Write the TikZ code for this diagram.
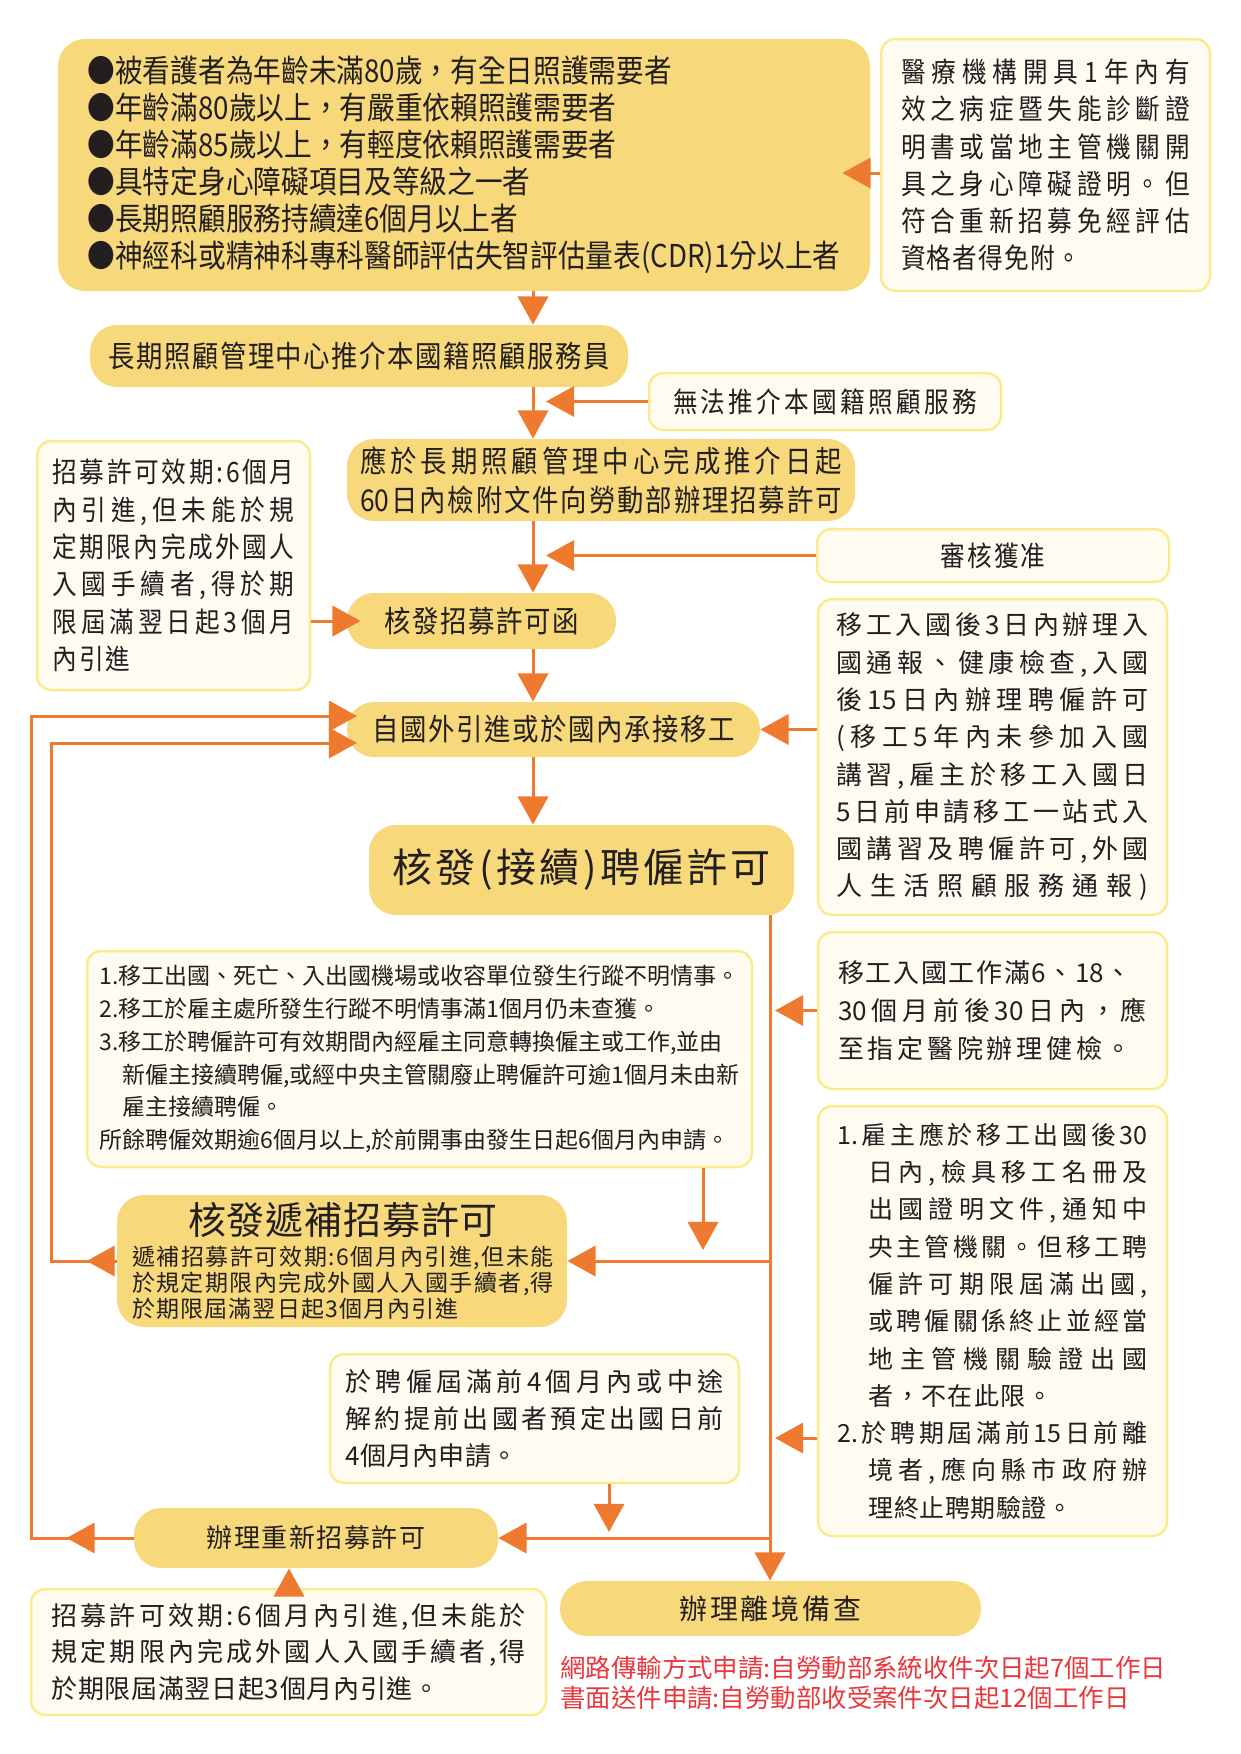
\documentclass[tikz,border=0pt]{standalone}
\usepackage{fontspec}
\setmainfont{Noto Sans CJK TC}
\newfontfamily\cjc{Noto Sans CJK TC}[FakeStretch=0.88]
\usetikzlibrary{arrows.meta,calc}
\definecolor{ylw}{HTML}{F7D97B}
\definecolor{crm}{HTML}{FFFBF0}
\definecolor{crmb}{HTML}{F8EC8C}
\definecolor{orng}{HTML}{EE7A2F}
\definecolor{ink}{HTML}{231F20}
\definecolor{rd}{HTML}{E8383D}
\newdimen\px \px=0.48pt
\makeatletter
\newcommand\jl[2]{\hbox to #1{\@tfor\jtok:=#2\do{\jtok\hfil}\unskip}}
\makeatother
\begin{document}
\begin{tikzpicture}[x=0.48pt,y=-0.48pt,
  yb/.style 2 args={fill=ylw, rounded corners=13pt, minimum width=#1*\px, minimum height=#2*\px, inner sep=0pt, text=ink},
  cb/.style 2 args={fill=crm, draw=crmb, line width=1.2pt, rounded corners=7pt, minimum width=#1*\px, minimum height=#2*\px, inner sep=0pt, text=ink},
  arr/.style={draw=orng, line width=1.44pt, -{Triangle[length=13.5pt,width=14.5pt]}},
  ]
\fill[white] (0,0) rectangle (1241,1754);
\useasboundingbox (0,0) rectangle (1241,1754);

% boxes
\node[yb={812}{252}, align=left, font=\cjc\fontsize{15.1pt}{17.76pt}\selectfont] (top) at (464,165)
 {●被看護者為年齡未滿80歲，有全日照護需要者\\●年齡滿80歲以上，有嚴重依賴照護需要者\\●年齡滿85歲以上，有輕度依賴照護需要者\\●具特定身心障礙項目及等級之一者\\●長期照顧服務持續達6個月以上者\\●神經科或精神科專科醫師評估失智評估量表(CDR)1分以上者};

\node[cb={329}{252}, align=left, font=\cjc\fontsize{13.44pt}{17.9pt}\selectfont] (note1) at (1045.5,165)
 {\jl{289\px}{醫療機構開具1年內有}\\\jl{289\px}{效之病症暨失能診斷證}\\\jl{289\px}{明書或當地主管機關開}\\\jl{289\px}{具之身心障礙證明。但}\\\jl{289\px}{符合重新招募免經評估}\\\jl{180\px}{資格者得免附。}};

\node[yb={538}{62}, font=\cjc\fontsize{14.4pt}{17pt}\selectfont] (box2) at (359,356)
 {\jl{501\px}{長期照顧管理中心推介本國籍照顧服務員}};

\node[cb={352}{57}, font=\cjc\fontsize{13.44pt}{16pt}\selectfont] (cant) at (825,401.5)
 {\jl{304\px}{無法推介本國籍照顧服務}};

\node[yb={508}{82}, align=left, font=\cjc\fontsize{14.4pt}{18.72pt}\selectfont] (box3) at (601,480)
 {\jl{482\px}{應於長期照顧管理中心完成推介日起}\\\jl{482\px}{{60}日內檢附文件向勞動部辦理招募許可}};

\node[cb={273}{249}, align=left, font=\cjc\fontsize{13.44pt}{17.95pt}\selectfont] (lnote) at (173.5,565.5)
 {\jl{242\px}{招募許可效期:6個月}\\\jl{242\px}{內引進,但未能於規}\\\jl{242\px}{定期限內完成外國人}\\\jl{242\px}{入國手續者,得於期}\\\jl{242\px}{限屆滿翌日起3個月}\\\jl{78\px}{內引進}};

\node[cb={352}{53}, font=\cjc\fontsize{13.44pt}{16pt}\selectfont] (appr) at (993,555.5)
 {\jl{105\px}{審核獲准}};

\node[yb={269}{56}, font=\cjc\fontsize{14.4pt}{17pt}\selectfont] (permit) at (481.5,621)
 {\jl{194\px}{核發招募許可函}};

\node[yb={413}{55}, font=\cjc\fontsize{14.4pt}{17pt}\selectfont] (intake) at (553.5,729.5)
 {\jl{362\px}{自國外引進或於國內承接移工}};

\node[cb={349}{316}, align=left, font=\fontsize{12.48pt}{17.9pt}\selectfont] (note2) at (992.5,757)
 {\jl{312\px}{移工入國後3日內辦理入}\\\jl{312\px}{國通報、健康檢查,入國}\\\jl{312\px}{後{15}日內辦理聘僱許可}\\\jl{312\px}{(移工5年內未參加入國}\\\jl{312\px}{講習,雇主於移工入國日}\\\jl{312\px}{5日前申請移工一站式入}\\\jl{312\px}{國講習及聘僱許可,外國}\\\jl{312\px}{人生活照顧服務通報)}};

\node[yb={425}{90}, font=\fontsize{19.2pt}{22pt}\selectfont] (employ) at (581.5,870)
 {\jl{378\px}{核發(接續)聘僱許可}};

\node[cb={665}{216}, align=left, font=\fontsize{11.04pt}{15.8pt}\selectfont] (reasons) at (419.5,1059)
 {1.移工出國、死亡、入出國機場或收容單位發生行蹤不明情事。\\2.移工於雇主處所發生行蹤不明情事滿1個月仍未查獲。\\3.移工於聘僱許可有效期間內經雇主同意轉換僱主或工作,並由\\\hspace*{23\px}新僱主接續聘僱,或經中央主管關廢止聘僱許可逾1個月未由新\\\hspace*{23\px}雇主接續聘僱。\\所餘聘僱效期逾6個月以上,於前開事由發生日起6個月內申請。};

\node[cb={349}{157}, align=left, font=\fontsize{12.48pt}{18.24pt}\selectfont] (note3) at (992.5,1010.5)
 {\jl{294\px}{移工入國工作滿6、{18}、}\\\jl{309\px}{{30}個月前後{30}日內，應}\\\jl{294\px}{至指定醫院辦理健檢。}};

\node[yb={450}{132}] (dibu) at (342,1261) {};
\node[text=ink, inner sep=0pt, font=\fontsize{18.24pt}{20pt}\selectfont] (dibuT) at (343,1220)
 {\jl{310\px}{核發遞補招募許可}};
\node[text=ink, inner sep=0pt, align=left, font=\fontsize{11.04pt}{12.48pt}\selectfont] (dibuS) at (343,1283)
 {\jl{422\px}{遞補招募許可效期:6個月內引進,但未能}\\\jl{422\px}{於規定期限內完成外國人入國手續者,得}\\\jl{327\px}{於期限屆滿翌日起3個月內引進}};

\node[cb={349}{430}, align=left, font=\fontsize{12pt}{17.9pt}\selectfont] (note4) at (992.5,1321)
 {\jl{310\px}{{1.}雇主應於移工出國後{30}}\\
  \hspace*{31\px}\jl{279\px}{日內,檢具移工名冊及}\\
  \hspace*{31\px}\jl{279\px}{出國證明文件,通知中}\\
  \hspace*{31\px}\jl{279\px}{央主管機關。但移工聘}\\
  \hspace*{31\px}\jl{279\px}{僱許可期限屆滿出國,}\\
  \hspace*{31\px}\jl{279\px}{或聘僱關係終止並經當}\\
  \hspace*{31\px}\jl{279\px}{地主管機關驗證出國}\\
  \hspace*{31\px}\jl{184\px}{者，不在此限。}\\
  \jl{310\px}{{2.}於聘期屆滿前{15}日前離}\\
  \hspace*{31\px}\jl{279\px}{境者,應向縣市政府辦}\\
  \hspace*{31\px}\jl{204\px}{理終止聘期驗證。}};

\node[cb={409}{129}, align=left, font=\fontsize{12.48pt}{17.76pt}\selectfont] (apply) at (534.5,1418.5)
 {\jl{378\px}{於聘僱屆滿前4個月內或中途}\\\jl{378\px}{解約提前出國者預定出國日前}\\\jl{172\px}{4個月內申請。}};

\node[yb={364}{60}, font=\fontsize{12.48pt}{15pt}\selectfont] (renew) at (316,1538)
 {\jl{219\px}{辦理重新招募許可}};

\node[cb={515}{126}, align=left, font=\fontsize{12.48pt}{17.52pt}\selectfont] (bnote) at (288.5,1652)
 {\jl{474\px}{招募許可效期:6個月內引進,但未能於}\\\jl{474\px}{規定期限內完成外國人入國手續者,得}\\\jl{388\px}{於期限屆滿翌日起3個月內引進。}};

\node[yb={421}{55}, font=\fontsize{13.44pt}{16pt}\selectfont] (depart) at (770.5,1608.5)
 {\jl{183\px}{辦理離境備查}};

\node[anchor=west, inner sep=0pt, align=left, text=rd, font=\fontsize{12.2pt}{14.16pt}\selectfont] (redtxt) at (560,1683)
 {網路傳輸方式申請:自勞動部系統收件次日起7個工作日\\書面送件申請:自勞動部收受案件次日起12個工作日};

% coordinates
\coordinate (mx) at (533,0);
\coordinate (mxr) at (546,0);
\coordinate (rx) at (770,0);
\coordinate (rxr) at (775,0);
\coordinate (rs) at (703,1250);
\coordinate (as) at (609,1532);
\coordinate (bx) at (289,0);
\coordinate (oL) at (31,716);
\coordinate (iL) at (51,743);
\coordinate (oT) at (357,716);
\coordinate (iT) at (357,743);
\coordinate (n4a) at (775,1438);
\coordinate (n1a) at (0,173);

% connectors
\draw[arr] (note1.west |- n1a) -- ($(top.east |- n1a)+(-28,0)$);
\draw[arr] (top.south -| mx) -- (box2.north -| mx);
\draw[arr] (box2.south -| mx) -- (box3.north -| mx);
\draw[arr] (cant.west) -- (cant.west -| mxr);
\draw[arr] (box3.south -| mx) -- (permit.north -| mx);
\draw[arr] (appr.west) -- (appr.west -| mxr);
\draw[arr] (lnote.east |- permit.west) -- ($(permit.west)+(14,0)$);
\draw[arr] (permit.south -| mx) -- (intake.north -| mx);
\draw[arr] (note2.west |- intake.east) -- (intake.east);
\draw[arr] (intake.south -| mx) -- (employ.north -| mx);
\draw[arr] (employ.south -| rx) -- (depart.north -| rx);
\draw[arr] (note3.west) -- (note3.west -| rxr);
\draw[arr] (reasons.south -| rs) -- (rs);
\draw[arr] (rx |- dibu.east) -- (dibu.east);
\draw[arr] (n4a -| note4.west) -- (n4a);
\draw[arr] (apply.south -| as) -- (as);
\draw[arr] (rx |- renew.east) -- (renew.east);
\draw[arr] (bnote.north -| bx) -- (renew.south -| bx);
\draw[arr] (renew.west) -- ++(-67,0);
\draw[arr] (renew.west) -- (renew.west -| oL) -- (oL) -- (oT);
\draw[arr] (dibu.west) -- ++(-30,0);
\draw[arr] (dibu.west) -- (dibu.west -| iL) -- (iL) -- (iT);
\end{tikzpicture}
\end{document}
